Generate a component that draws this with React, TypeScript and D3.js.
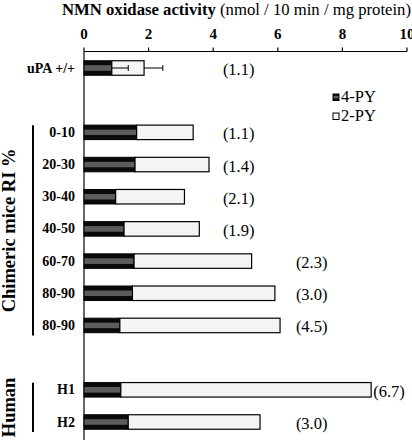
import React from "react";
import * as d3 from "d3";

const rowKeys = ["uPA", "gap1", "c1", "c2", "c3", "c4", "c5", "c6", "c7", "gap2", "h1", "h2"];
const barKeys = ["uPA", "c1", "c2", "c3", "c4", "c5", "c6", "c7", "h1", "h2"];
const barLabels = ["uPA +/+", "0-10", "20-30", "30-40", "40-50", "60-70", "80-90", "80-90", "H1", "H2"];
const py4 = [0.86, 1.63, 1.58, 0.98, 1.24, 1.55, 1.5, 1.11, 1.14, 1.37];
const py2 = [1.0, 1.75, 2.29, 2.13, 2.33, 3.64, 4.41, 4.96, 7.75, 4.08];
const ratioLabels = ["(1.1)", "(1.1)", "(1.4)", "(2.1)", "(1.9)", "(2.3)", "(3.0)", "(4.5)", "(6.7)", "(3.0)"];
const err4 = [0.51, 0, 0, 0, 0, 0, 0, 0, 0, 0];
const errTotal = [0.58, 0, 0, 0, 0, 0, 0, 0, 0, 0];
const xTicks = [0, 2, 4, 6, 8, 10];
const labelSlots = [4.3, 6.56];
const groups = [
  { name: "Chimeric mice RI %", from: "c1", to: "c7" },
  { name: "Human", from: "h1", to: "h2" },
];
const legendItems = ["4-PY", "2-PY"];

const FONT = "'Liberation Serif', 'Times New Roman', serif";

export default function App() {
  const W = 412, H = 440;
  const x = d3.scaleLinear().domain([0, 10]).range([84, 407]);
  const y = d3.scalePoint<string>().domain(rowKeys).range([68, 422]);
  const bh = 14.5;
  const axisY = 51.5;

  return (
    <svg width={W} height={H} style={{ position: "absolute", left: 0, top: 0, background: "#fff" }} fontFamily={FONT}>
      <defs>
        <linearGradient id="g4" x1="0" y1="0" x2="0" y2="1">
          <stop offset="0" stopColor="#0a0a0a" />
          <stop offset="0.28" stopColor="#0a0a0a" />
          <stop offset="0.34" stopColor="#5c5c5c" />
          <stop offset="0.66" stopColor="#5c5c5c" />
          <stop offset="0.72" stopColor="#0a0a0a" />
          <stop offset="1" stopColor="#0a0a0a" />
        </linearGradient>
        <pattern id="p2" width="2" height="2" patternUnits="userSpaceOnUse">
          <rect width="2" height="2" fill="#f7f7f7" />
          <rect width="1" height="1" fill="#ececec" />
        </pattern>
      </defs>

      {/* title */}
      <text x={62} y={15} fontSize={16.7}>
        <tspan fontWeight="bold">NMN oxidase activity</tspan>
        <tspan> (nmol / 10 min / mg protein)</tspan>
      </text>

      {/* top axis */}
      <line x1={x(0)} x2={x(10)} y1={axisY} y2={axisY} stroke="#000" strokeWidth={1.2} />
      {xTicks.map((t) => (
        <g key={t}>
          <line x1={x(t)} x2={x(t)} y1={axisY} y2={axisY - 4} stroke="#000" strokeWidth={1.2} />
          <text x={x(t)} y={39} fontSize={15} fontWeight="bold" textAnchor="middle">{t}</text>
        </g>
      ))}
      <line x1={x(0)} x2={x(0)} y1={axisY} y2={H} stroke="#000" strokeWidth={1.2} />

      {/* bars */}
      {barKeys.map((k, i) => {
        const cy = y(k)!;
        const total = py4[i] + py2[i];
        const slot = labelSlots.find((s) => s > total + 0.4);
        const lx = slot !== undefined ? x(slot) : x(total) + 2;
        return (
          <g key={k}>
            <rect x={x(0)} y={cy - bh / 2} width={x(py4[i]) - x(0)} height={bh} fill="url(#g4)" stroke="#000" strokeWidth={1} />
            <rect x={x(py4[i])} y={cy - bh / 2} width={x(total) - x(py4[i])} height={bh} fill="url(#p2)" stroke="#000" strokeWidth={1.2} />
            {err4[i] > 0 && (
              <g stroke="#000" strokeWidth={1}>
                <line x1={x(py4[i])} x2={x(py4[i] + err4[i])} y1={cy} y2={cy} />
                <line x1={x(py4[i] + err4[i])} x2={x(py4[i] + err4[i])} y1={cy - 3} y2={cy + 3} />
              </g>
            )}
            {errTotal[i] > 0 && (
              <g stroke="#000" strokeWidth={1}>
                <line x1={x(total)} x2={x(total + errTotal[i])} y1={cy} y2={cy} />
                <line x1={x(total + errTotal[i])} x2={x(total + errTotal[i])} y1={cy - 3} y2={cy + 3} />
              </g>
            )}
            <text x={75} y={cy + 4.5} fontSize={14} fontWeight="bold" textAnchor="end">{barLabels[i]}</text>
            <text x={lx} y={cy + 7} fontSize={16.5}>{ratioLabels[i]}</text>
          </g>
        );
      })}

      {/* groups */}
      {groups.map((g) => {
        const y0 = y(g.from)! - 7;
        const y1 = y(g.to)! + 10;
        const mid = (y0 + y1) / 2;
        return (
          <g key={g.name}>
            <line x1={33} x2={33} y1={y0} y2={y1} stroke="#000" strokeWidth={2} />
            <text transform={`translate(15,${mid}) rotate(-90)`} fontSize={18.5} fontWeight="bold" textAnchor="middle">{g.name}</text>
          </g>
        );
      })}

      {/* legend */}
      {legendItems.map((l, i) => (
        <g key={l} transform={`translate(333,${94 + i * 19})`}>
          <rect x={0} y={0} width={6} height={6.5} fill={i === 0 ? "url(#g4)" : "#f7f7f7"} stroke="#000" strokeWidth={1} />
          <text x={8} y={7.5} fontSize={16.5}>{l}</text>
        </g>
      ))}
    </svg>
  );
}
